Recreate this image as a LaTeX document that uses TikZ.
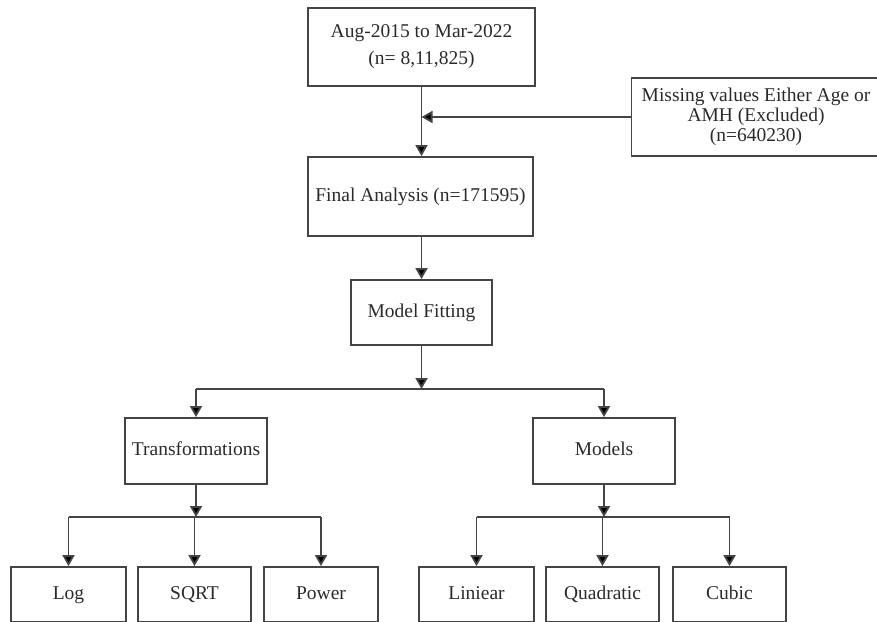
\documentclass[tikz,border=0pt]{standalone}
\usepackage{fontspec}
\setmainfont{Liberation Serif}
\usetikzlibrary{arrows.meta}
\definecolor{ln}{HTML}{444444}
\definecolor{tx}{HTML}{2A2A2A}
\begin{document}
\begin{tikzpicture}[x=1pt,y=-1pt,
  box/.style={draw=ln,line width=1.8pt,rectangle,inner sep=0pt,text=tx,align=center,font=\fontsize{19.5}{20}\selectfont},
  one/.style={box,text height=13.5pt,text depth=4.5pt},
  arr/.style={draw=ln,line width=1.8pt,-{Triangle[length=11pt,width=12pt,fill=black]}},
  ln/.style={draw=ln,line width=1.8pt}]
\useasboundingbox (0,0) rectangle (877,621);
\node[box,minimum width=227pt,minimum height=78pt,font=\fontsize{19.5}{27}\selectfont] (b1) at (421.5,47) {Aug-2015 to Mar-2022\\(n= 8,11,825)};
\node[box,minimum width=249pt,minimum height=78pt] (miss) at (756,117) {Missing values Either Age or\\AMH (Excluded)\\(n=640230)};
\node[one,minimum width=225pt,minimum height=79pt] (fin) at (420.5,196.5) {Final Analysis (n=171595)};
\node[one,minimum width=141pt,minimum height=65pt] (mf) at (421.5,312.5) {Model Fitting};
\node[one,minimum width=142pt,minimum height=66pt] (tr) at (196,451) {Transformations};
\node[one,minimum width=142pt,minimum height=66pt] (mo) at (604,451) {Models};
\node[one,minimum width=115pt,minimum height=55pt] (log) at (68.5,594.5) {Log};
\node[one,minimum width=113pt,minimum height=55pt] (sq) at (194.5,594.5) {SQRT};
\node[one,minimum width=114pt,minimum height=55pt] (pw) at (321,594.5) {Power};
\node[one,minimum width=115pt,minimum height=55pt] (li) at (476.5,594.5) {Liniear};
\node[one,minimum width=113pt,minimum height=55pt] (qu) at (602.5,594.5) {Quadratic};
\node[one,minimum width=113pt,minimum height=55pt] (cu) at (729.5,594.5) {Cubic};
\coordinate (j1) at (421.5,389);
\coordinate (j2) at (196,517);
\coordinate (j3) at (604,517);
\draw[arr] (b1.south) -- (fin.north -| b1.south);
\draw[arr] (miss.west) -- (miss.west -| b1.south);
\draw[arr] (fin.south -| mf.north) -- (mf.north);
\draw[arr] (mf.south) -- (j1);
\draw[ln] (j1 -| tr.north) -- (j1 -| mo.north);
\draw[arr] (j1 -| tr.north) -- (tr.north);
\draw[arr] (j1 -| mo.north) -- (mo.north);
\draw[arr] (tr.south) -- (j2);
\draw[ln] (j2 -| log.north) -- (j2 -| pw.north);
\draw[arr] (j2 -| log.north) -- (log.north);
\draw[arr] (j2 -| sq.north) -- (sq.north);
\draw[arr] (j2 -| pw.north) -- (pw.north);
\draw[arr] (mo.south) -- (j3);
\draw[ln] (j3 -| li.north) -- (j3 -| cu.north);
\draw[arr] (j3 -| li.north) -- (li.north);
\draw[arr] (j3 -| qu.north) -- (qu.north);
\draw[arr] (j3 -| cu.north) -- (cu.north);
\end{tikzpicture}
\end{document}
